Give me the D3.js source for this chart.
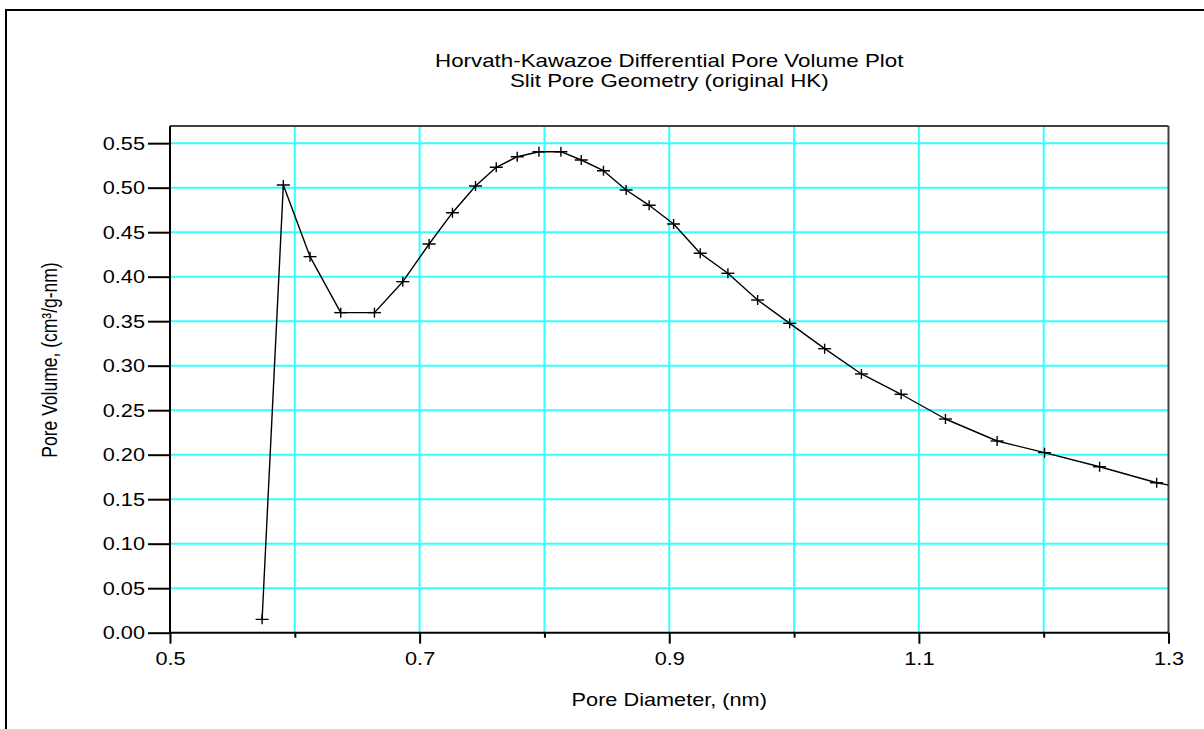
<!DOCTYPE html>
<html>
<head>
<meta charset="utf-8">
<script src="https://cdn.jsdelivr.net/npm/d3@7"></script>
<style>
  html, body { margin: 0; padding: 0; background: #fff; }
  svg { display: block; }
  text { font-family: "Liberation Sans", Arial, sans-serif; fill: #000; }
</style>
</head>
<body>
<script>
// ---- Data ----
const titleLines = ["Horvath-Kawazoe Differential Pore Volume Plot", "Slit Pore Geometry (original HK)"];
const xAxisTitle = "Pore Diameter, (nm)";
const yAxisTitle = "Pore Volume, (cm\u00B3/g-nm)";

const poreDiameter = [0.5738, 0.5908, 0.6122, 0.6368, 0.6638, 0.6865, 0.7076, 0.7263, 0.7448, 0.7614,
  0.7782, 0.7956, 0.8132, 0.8295, 0.8473, 0.8655, 0.8839, 0.9035, 0.9248, 0.9470,
  0.9708, 0.9965, 1.0245, 1.0540, 1.0858, 1.1213, 1.1627, 1.2007, 1.2448, 1.2905, 1.3400];
const poreVolume = [0.015, 0.503, 0.4225, 0.3596, 0.3596, 0.3944, 0.4367, 0.4719, 0.5019, 0.5229,
  0.5348, 0.5404, 0.5404, 0.5311, 0.5191, 0.4974, 0.4802, 0.4592, 0.4263, 0.4038,
  0.3738, 0.3476, 0.3191, 0.2907, 0.2679, 0.2401, 0.2154, 0.2023, 0.1865, 0.1685, 0.1550];

const xDomain = [0.5, 1.3];
const yDomain = [0, 0.5693];
const xGridTicks = [0.6, 0.7, 0.8, 0.9, 1.0, 1.1, 1.2];
const xMajorTicks = [0.5, 0.7, 0.9, 1.1, 1.3];
const xMinorTicks = [0.6, 0.8, 1.0, 1.2];
const xTickLabels = ["0.5", "0.7", "0.9", "1.1", "1.3"];
const yTicks = [0.00, 0.05, 0.10, 0.15, 0.20, 0.25, 0.30, 0.35, 0.40, 0.45, 0.50, 0.55];
const yTickLabels = ["0.00", "0.05", "0.10", "0.15", "0.20", "0.25", "0.30", "0.35", "0.40", "0.45", "0.50", "0.55"];

// ---- Layout ----
const W = 1204, H = 729;
const plot = { left: 170, right: 1168.5, top: 126, bottom: 632.7 };
const fontSize = 17.5;
const stretch = 1.24; // reference text is horizontally widened

const svg = d3.select("body").append("svg").attr("width", W).attr("height", H);

// outer frame
svg.append("rect").attr("x", 6).attr("y", 10).attr("width", W + 20).attr("height", H + 20)
  .attr("fill", "none").attr("stroke", "#000").attr("stroke-width", 2);

const x = d3.scaleLinear().domain(xDomain).range([plot.left, plot.right]);
const y = d3.scaleLinear().domain(yDomain).range([plot.bottom, plot.top]);

svg.append("defs").append("clipPath").attr("id", "clip")
  .append("rect").attr("x", plot.left).attr("y", plot.top)
  .attr("width", plot.right - plot.left).attr("height", plot.bottom - plot.top);

// grid lines
const grid = svg.append("g");
grid.selectAll("line.vg").data(xGridTicks).join("line")
  .attr("x1", d => x(d)).attr("x2", d => x(d))
  .attr("y1", plot.top).attr("y2", plot.bottom)
  .attr("stroke", "#33ffff").attr("stroke-width", 2);
grid.selectAll("line.hg").data(yTicks.filter(d => d > 0)).join("line")
  .attr("x1", plot.left).attr("x2", plot.right)
  .attr("y1", d => y(d)).attr("y2", d => y(d))
  .attr("stroke", "#33ffff").attr("stroke-width", 2);

// plot frame (top, right)
svg.append("line").attr("x1", plot.left).attr("x2", plot.right).attr("y1", plot.top).attr("y2", plot.top)
  .attr("stroke", "#404040").attr("stroke-width", 2);
svg.append("line").attr("x1", plot.right).attr("x2", plot.right).attr("y1", plot.top).attr("y2", plot.bottom)
  .attr("stroke", "#404040").attr("stroke-width", 2);

// axes
const yAxis = d3.axisLeft(y).tickValues(yTicks).tickSize(22).tickPadding(3)
  .tickFormat((d, i) => yTickLabels[i]);
const gy = svg.append("g").attr("transform", `translate(${plot.left},0)`).call(yAxis);
gy.select(".domain").attr("stroke", "#000").attr("stroke-width", 2).attr("d", `M0,${plot.top}V${plot.bottom}`);
gy.selectAll(".tick line").attr("stroke", "#000").attr("stroke-width", 2);
gy.selectAll(".tick text")
  .attr("font-size", fontSize).attr("font-family", "Liberation Sans, Arial, sans-serif").attr("fill", "#000")
  .attr("x", 0).attr("dy", "0.35em")
  .attr("transform", `translate(-25,0) scale(${stretch},1)`);

const xAxis = d3.axisBottom(x).tickValues(xMajorTicks).tickSize(11).tickPadding(4)
  .tickFormat((d, i) => xTickLabels[i]);
const gx = svg.append("g").attr("transform", `translate(0,${plot.bottom})`).call(xAxis);
gx.select(".domain").attr("stroke", "#000").attr("stroke-width", 2).attr("d", `M${plot.left},0H${plot.right}`);
gx.selectAll(".tick line").attr("stroke", "#000").attr("stroke-width", 2);
gx.selectAll(".tick text")
  .attr("font-size", fontSize).attr("font-family", "Liberation Sans, Arial, sans-serif").attr("fill", "#000")
  .attr("y", 32).attr("dy", 0)
  .attr("transform", `scale(${stretch},1)`);

const xAxisMinor = d3.axisBottom(x).tickValues(xMinorTicks).tickSize(5).tickFormat("");
const gxm = svg.append("g").attr("transform", `translate(0,${plot.bottom})`).call(xAxisMinor);
gxm.select(".domain").remove();
gxm.selectAll(".tick line").attr("stroke", "#000").attr("stroke-width", 2);

// data line
const pts = poreDiameter.map((d, i) => [d, poreVolume[i]]);
const line = d3.line().x(d => x(d[0])).y(d => y(d[1])).curve(d3.curveLinear);
const dataG = svg.append("g").attr("clip-path", "url(#clip)");
dataG.append("path").datum(pts).attr("d", line)
  .attr("fill", "none").attr("stroke", "#000").attr("stroke-width", 1.4)
  .attr("stroke-linejoin", "round");

// "+" markers
const mk = dataG.selectAll("g.mk").data(pts.filter(p => p[0] <= xDomain[1])).join("g")
  .attr("transform", d => `translate(${x(d[0])},${y(d[1])})`);
mk.append("line").attr("x1", -6.5).attr("x2", 6.5).attr("y1", 0).attr("y2", 0)
  .attr("stroke", "#000").attr("stroke-width", 1.4);
mk.append("line").attr("x1", 0).attr("x2", 0).attr("y1", -5).attr("y2", 5)
  .attr("stroke", "#000").attr("stroke-width", 1.4);

// titles
const cx = (plot.left + plot.right) / 2;
function hText(tx, ty, str, size) {
  return svg.append("text")
    .attr("transform", `translate(${tx},${ty}) scale(${stretch},1)`)
    .attr("text-anchor", "middle").attr("font-size", size).text(str);
}
hText(cx, 67, titleLines[0], 18);
hText(cx, 87, titleLines[1], 18);
hText(cx, 706, xAxisTitle, fontSize);

svg.append("text")
  .attr("transform", `translate(57,360) rotate(-90) scale(1,${stretch})`)
  .attr("text-anchor", "middle").attr("font-size", fontSize).text(yAxisTitle);
</script>
</body>
</html>
